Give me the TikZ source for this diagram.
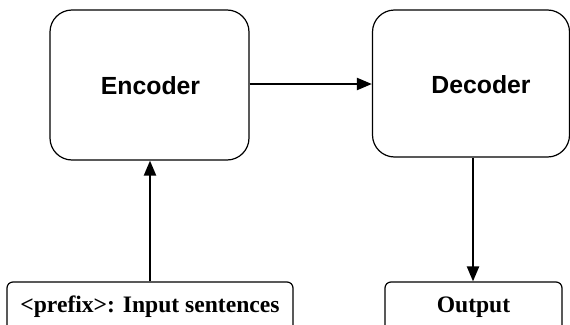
\documentclass[tikz,border=0pt]{standalone}
\usepackage{fontspec}
\setmainfont{Liberation Serif}
\newfontfamily\arialfont{Liberation Sans}
\usetikzlibrary{arrows.meta}
\begin{document}
\begin{tikzpicture}[x=1pt,y=-1pt,
  bigbox/.style={draw=black,line width=1.2pt,rounded corners=22pt,inner sep=0pt},
  smallbox/.style={draw=black,line width=1.2pt,rounded corners=6pt,inner sep=0pt,
     font=\fontsize{23.6}{26}\selectfont\bfseries},
  sanslabel/.style={inner sep=0pt,font=\arialfont\fontsize{24.8}{28}\selectfont\bfseries},
  conn/.style={line width=2.2pt,-{Triangle[length=15pt,width=12pt]}}]
\useasboundingbox (0,0) rectangle (570,324);
\clip (0,0) rectangle (570,324);
\node[bigbox,minimum width=199pt,minimum height=150pt] (enc) at (149.5,85) {};
\node[sanslabel] (enctext) at (150.5,85.7) {Encoder};
\node[bigbox,minimum width=197pt,minimum height=147pt] (dec) at (471,83.5) {};
\node[sanslabel] (dectext) at (481,85) {Decoder};
\node[smallbox,minimum width=286pt,minimum height=50pt] (inp) at (150,307) {<prefix>: Input sentences};
\node[smallbox,minimum width=177pt,minimum height=50pt] (out) at (473.5,307) {Output};
\draw[conn] (enc.east |- 0,84) -- (dec.west |- 0,84);
\draw[conn] (inp.north -| 150,0) -- (enc.south -| 150,0);
\draw[conn] (dec.south -| 473,0) -- (out.north -| 473,0);
\end{tikzpicture}
\end{document}
